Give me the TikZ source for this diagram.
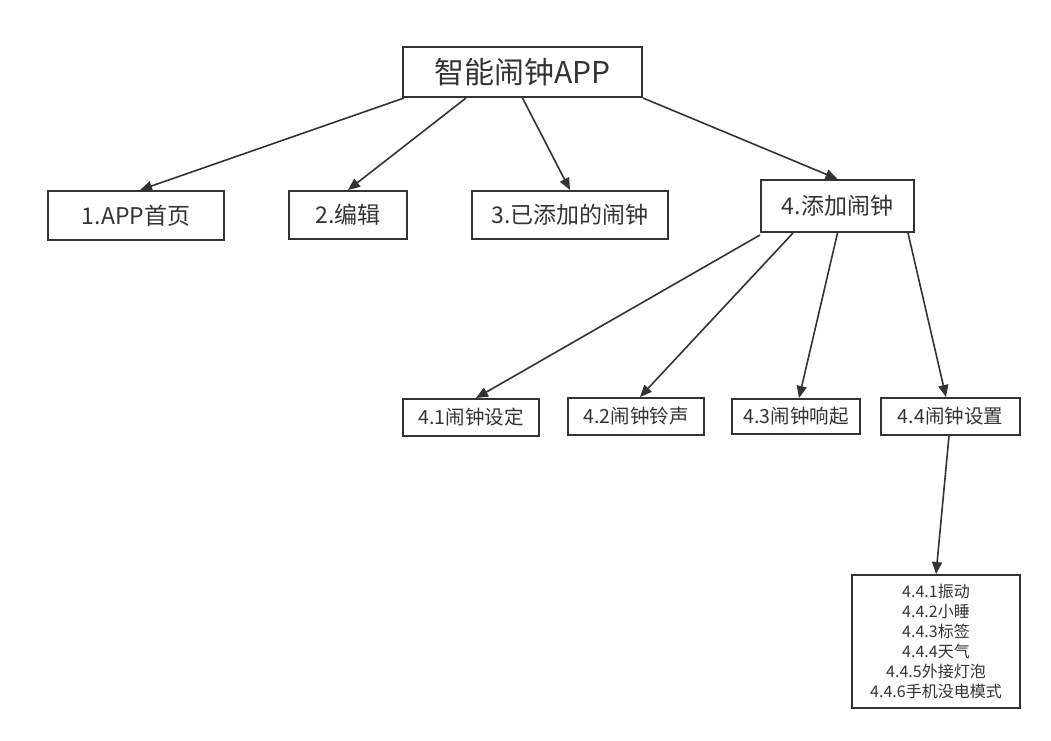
\documentclass[tikz,border=0pt]{standalone}
\usepackage{fontspec}
\setmainfont{Noto Sans CJK SC}
\usetikzlibrary{arrows.meta}
\definecolor{ink}{HTML}{333333}
\begin{document}
\begin{tikzpicture}[x=1pt,y=-1pt,
  box/.style={draw=ink,line width=2pt,fill=white,text=ink,inner sep=0pt,align=center},
  conn/.style={draw=ink,line width=1.6pt,-{Triangle[length=12pt,width=10pt]}}]
\useasboundingbox (0,0) rectangle (1051,740);
\node[box,minimum width=239pt,minimum height=50pt,font=\fontsize{30}{34}\selectfont] (root) at (522.5,72) {智能闹钟APP};
\node[box,minimum width=176pt,minimum height=49pt,font=\fontsize{23}{26}\selectfont] (n1) at (136,215.5) {1.APP首页};
\node[box,minimum width=118pt,minimum height=48pt,font=\fontsize{23}{26}\selectfont] (n2) at (348,215) {2.编辑};
\node[box,minimum width=196pt,minimum height=48pt,font=\fontsize{23}{26}\selectfont] (n3) at (570,215) {3.已添加的闹钟};
\node[box,minimum width=153pt,minimum height=52pt,font=\fontsize{23}{26}\selectfont] (n4) at (837.5,206) {4.添加闹钟};
\node[box,minimum width=136pt,minimum height=37pt,font=\fontsize{19.5}{22}\selectfont] (n41) at (471,417.5) {4.1闹钟设定};
\node[box,minimum width=136pt,minimum height=37pt,font=\fontsize{19.5}{22}\selectfont] (n42) at (636,416.5) {4.2闹钟铃声};
\node[box,minimum width=128pt,minimum height=35pt,font=\fontsize{19.5}{22}\selectfont] (n43) at (796,416.5) {4.3闹钟响起};
\node[box,minimum width=139pt,minimum height=37pt,font=\fontsize{19.5}{22}\selectfont] (n44) at (950.5,416.5) {4.4闹钟设置};
\node[box,minimum width=168pt,minimum height=133pt,font=\fontsize{16}{20}\selectfont] (n5) at (936,641.5) {4.4.1振动\\4.4.2小睡\\4.4.3标签\\4.4.4天气\\4.4.5外接灯泡\\4.4.6手机没电模式};
\draw[conn] ([xshift=2pt]root.south west) -- ([xshift=4pt]n1.north);
\draw[conn] ([xshift=64pt]root.south west) -- (n2.north);
\draw[conn] (root.south) -- (n3.north);
\draw[conn] (root.south east) -- (n4.north);
\draw[conn] ([yshift=-2pt]n4.south west) -- ([xshift=5pt]n41.north);
\draw[conn] ([xshift=33pt]n4.south west) -- ([xshift=4pt]n42.north);
\draw[conn] (n4.south) -- ([xshift=3pt]n43.north);
\draw[conn] ([xshift=-7pt]n4.south east) -- ([xshift=-4.5pt]n44.north);
\draw[conn] ([xshift=-1.5pt]n44.south) -- (n5.north);
\end{tikzpicture}
\end{document}
